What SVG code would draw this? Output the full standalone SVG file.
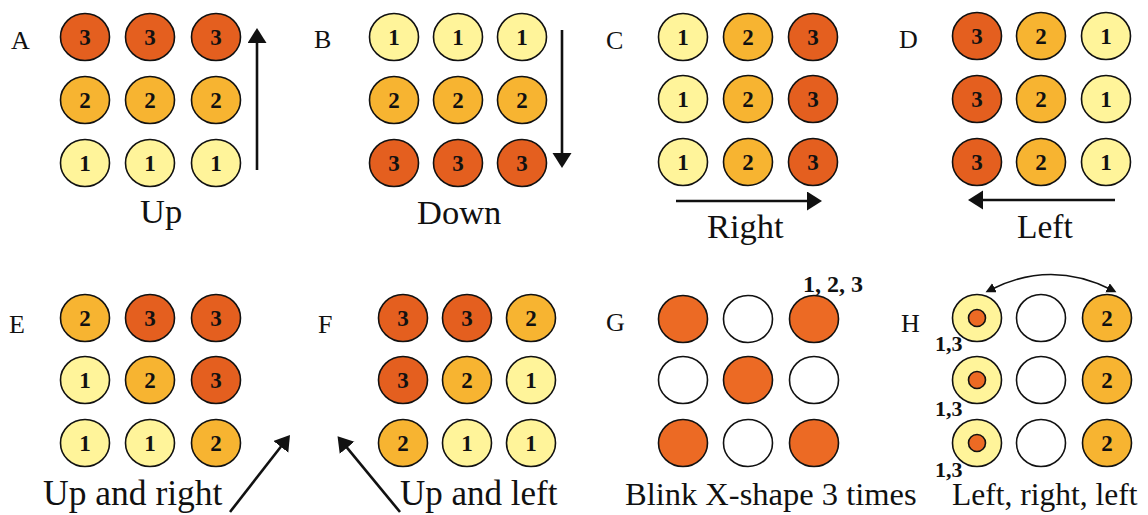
<svg xmlns="http://www.w3.org/2000/svg" width="1148" height="515" viewBox="0 0 1148 515">
<style>
.c1{fill:#fff49a;stroke:#111;stroke-width:1.6}
.c2{fill:#f7b431;stroke:#111;stroke-width:1.6}
.c3{fill:#e45f1f;stroke:#111;stroke-width:1.6}
.c0{fill:#fff;stroke:#111;stroke-width:1.6}
.cr{fill:#ec6a24;stroke:#111;stroke-width:1.6}
text{font-family:'Liberation Serif','Times New Roman','DejaVu Serif',serif;fill:#111}
.d{font-weight:bold;font-size:23px;text-anchor:middle}
.lt{font-size:26px}
.lb{font-size:34.5px}
.sm{font-weight:bold;font-size:22px}
.ar{stroke:#111;stroke-width:2.6;fill:none}
.ar2{stroke:#111;stroke-width:1.6;fill:none}
</style>
<defs>
<marker id="ah" markerUnits="userSpaceOnUse" markerWidth="20" markerHeight="20" refX="8" refY="9.5" orient="auto">
<path d="M0,0 L15,9.5 L0,19 z" fill="#111"/>
</marker>
<marker id="ahs" markerUnits="userSpaceOnUse" markerWidth="12" markerHeight="12" refX="5" refY="5" orient="auto-start-reverse">
<path d="M0,0 L10,5 L0,10 z" fill="#111"/>
</marker>
</defs>

<g id="panelA">
<text class="lt" x="11" y="49">A</text>
<g id="A11"><ellipse class="c3" cx="85" cy="37" rx="24.5" ry="23.5"/><text class="d" x="85" y="45">3</text></g>
<g id="A12"><ellipse class="c3" cx="150" cy="37" rx="24.5" ry="23.5"/><text class="d" x="150" y="45">3</text></g>
<g id="A13"><ellipse class="c3" cx="216" cy="37" rx="24.5" ry="23.5"/><text class="d" x="216" y="45">3</text></g>
<g id="A21"><ellipse class="c2" cx="85" cy="100" rx="24.5" ry="23.5"/><text class="d" x="85" y="108">2</text></g>
<g id="A22"><ellipse class="c2" cx="150" cy="100" rx="24.5" ry="23.5"/><text class="d" x="150" y="108">2</text></g>
<g id="A23"><ellipse class="c2" cx="216" cy="100" rx="24.5" ry="23.5"/><text class="d" x="216" y="108">2</text></g>
<g id="A31"><ellipse class="c1" cx="85" cy="163" rx="24.5" ry="23.5"/><text class="d" x="85" y="171">1</text></g>
<g id="A32"><ellipse class="c1" cx="150" cy="163" rx="24.5" ry="23.5"/><text class="d" x="150" y="171">1</text></g>
<g id="A33"><ellipse class="c1" cx="216" cy="163" rx="24.5" ry="23.5"/><text class="d" x="216" y="171">1</text></g>
<text class="lb" x="140" y="223">Up</text>
</g>

<g id="panelB">
<text class="lt" x="314" y="48">B</text>
<g id="B11"><ellipse class="c1" cx="394" cy="37" rx="24.5" ry="23.5"/><text class="d" x="394" y="45">1</text></g>
<g id="B12"><ellipse class="c1" cx="458" cy="37" rx="24.5" ry="23.5"/><text class="d" x="458" y="45">1</text></g>
<g id="B13"><ellipse class="c1" cx="522" cy="37" rx="24.5" ry="23.5"/><text class="d" x="522" y="45">1</text></g>
<g id="B21"><ellipse class="c2" cx="394" cy="100" rx="24.5" ry="23.5"/><text class="d" x="394" y="108">2</text></g>
<g id="B22"><ellipse class="c2" cx="458" cy="100" rx="24.5" ry="23.5"/><text class="d" x="458" y="108">2</text></g>
<g id="B23"><ellipse class="c2" cx="522" cy="100" rx="24.5" ry="23.5"/><text class="d" x="522" y="108">2</text></g>
<g id="B31"><ellipse class="c3" cx="394" cy="163" rx="24.5" ry="23.5"/><text class="d" x="394" y="171">3</text></g>
<g id="B32"><ellipse class="c3" cx="458" cy="163" rx="24.5" ry="23.5"/><text class="d" x="458" y="171">3</text></g>
<g id="B33"><ellipse class="c3" cx="522" cy="163" rx="24.5" ry="23.5"/><text class="d" x="522" y="171">3</text></g>
<text class="lb" x="417" y="224">Down</text>
</g>

<g id="panelC">
<text class="lt" x="606" y="49">C</text>
<g id="C11"><ellipse class="c1" cx="683" cy="37" rx="24.5" ry="23.5"/><text class="d" x="683" y="45">1</text></g>
<g id="C12"><ellipse class="c2" cx="748" cy="37" rx="24.5" ry="23.5"/><text class="d" x="748" y="45">2</text></g>
<g id="C13"><ellipse class="c3" cx="813" cy="37" rx="24.5" ry="23.5"/><text class="d" x="813" y="45">3</text></g>
<g id="C21"><ellipse class="c1" cx="683" cy="99" rx="24.5" ry="23.5"/><text class="d" x="683" y="107">1</text></g>
<g id="C22"><ellipse class="c2" cx="748" cy="99" rx="24.5" ry="23.5"/><text class="d" x="748" y="107">2</text></g>
<g id="C23"><ellipse class="c3" cx="813" cy="99" rx="24.5" ry="23.5"/><text class="d" x="813" y="107">3</text></g>
<g id="C31"><ellipse class="c1" cx="683" cy="162" rx="24.5" ry="23.5"/><text class="d" x="683" y="170">1</text></g>
<g id="C32"><ellipse class="c2" cx="748" cy="162" rx="24.5" ry="23.5"/><text class="d" x="748" y="170">2</text></g>
<g id="C33"><ellipse class="c3" cx="813" cy="162" rx="24.5" ry="23.5"/><text class="d" x="813" y="170">3</text></g>
<text class="lb" x="707" y="238">Right</text>
</g>

<g id="panelD">
<text class="lt" x="899" y="48">D</text>
<g id="D11"><ellipse class="c3" cx="977" cy="36" rx="24.5" ry="23.5"/><text class="d" x="977" y="44">3</text></g>
<g id="D12"><ellipse class="c2" cx="1041" cy="36" rx="24.5" ry="23.5"/><text class="d" x="1041" y="44">2</text></g>
<g id="D13"><ellipse class="c1" cx="1106" cy="36" rx="24.5" ry="23.5"/><text class="d" x="1106" y="44">1</text></g>
<g id="D21"><ellipse class="c3" cx="977" cy="99" rx="24.5" ry="23.5"/><text class="d" x="977" y="107">3</text></g>
<g id="D22"><ellipse class="c2" cx="1041" cy="99" rx="24.5" ry="23.5"/><text class="d" x="1041" y="107">2</text></g>
<g id="D23"><ellipse class="c1" cx="1106" cy="99" rx="24.5" ry="23.5"/><text class="d" x="1106" y="107">1</text></g>
<g id="D31"><ellipse class="c3" cx="977" cy="162" rx="24.5" ry="23.5"/><text class="d" x="977" y="170">3</text></g>
<g id="D32"><ellipse class="c2" cx="1041" cy="162" rx="24.5" ry="23.5"/><text class="d" x="1041" y="170">2</text></g>
<g id="D33"><ellipse class="c1" cx="1106" cy="162" rx="24.5" ry="23.5"/><text class="d" x="1106" y="170">1</text></g>
<text class="lb" x="1017" y="238" style="font-size:33.5px">Left</text>
</g>

<g id="panelE">
<text class="lt" x="9" y="333">E</text>
<g id="E11"><ellipse class="c2" cx="85" cy="318" rx="24.5" ry="23.5"/><text class="d" x="85" y="326">2</text></g>
<g id="E12"><ellipse class="c3" cx="150" cy="318" rx="24.5" ry="23.5"/><text class="d" x="150" y="326">3</text></g>
<g id="E13"><ellipse class="c3" cx="216" cy="318" rx="24.5" ry="23.5"/><text class="d" x="216" y="326">3</text></g>
<g id="E21"><ellipse class="c1" cx="85" cy="380" rx="24.5" ry="23.5"/><text class="d" x="85" y="388">1</text></g>
<g id="E22"><ellipse class="c2" cx="150" cy="380" rx="24.5" ry="23.5"/><text class="d" x="150" y="388">2</text></g>
<g id="E23"><ellipse class="c3" cx="216" cy="380" rx="24.5" ry="23.5"/><text class="d" x="216" y="388">3</text></g>
<g id="E31"><ellipse class="c1" cx="85" cy="443" rx="24.5" ry="23.5"/><text class="d" x="85" y="451">1</text></g>
<g id="E32"><ellipse class="c1" cx="150" cy="443" rx="24.5" ry="23.5"/><text class="d" x="150" y="451">1</text></g>
<g id="E33"><ellipse class="c2" cx="216" cy="443" rx="24.5" ry="23.5"/><text class="d" x="216" y="451">2</text></g>
<text class="lb" x="43" y="505" style="font-size:35.5px">Up and right</text>
</g>

<g id="panelF">
<text class="lt" x="318" y="333">F</text>
<g id="F11"><ellipse class="c3" cx="403" cy="318" rx="24.5" ry="23.5"/><text class="d" x="403" y="326">3</text></g>
<g id="F12"><ellipse class="c3" cx="467" cy="318" rx="24.5" ry="23.5"/><text class="d" x="467" y="326">3</text></g>
<g id="F13"><ellipse class="c2" cx="531" cy="318" rx="24.5" ry="23.5"/><text class="d" x="531" y="326">2</text></g>
<g id="F21"><ellipse class="c3" cx="403" cy="380" rx="24.5" ry="23.5"/><text class="d" x="403" y="388">3</text></g>
<g id="F22"><ellipse class="c2" cx="467" cy="380" rx="24.5" ry="23.5"/><text class="d" x="467" y="388">2</text></g>
<g id="F23"><ellipse class="c1" cx="531" cy="380" rx="24.5" ry="23.5"/><text class="d" x="531" y="388">1</text></g>
<g id="F31"><ellipse class="c2" cx="403" cy="443" rx="24.5" ry="23.5"/><text class="d" x="403" y="451">2</text></g>
<g id="F32"><ellipse class="c1" cx="467" cy="443" rx="24.5" ry="23.5"/><text class="d" x="467" y="451">1</text></g>
<g id="F33"><ellipse class="c1" cx="531" cy="443" rx="24.5" ry="23.5"/><text class="d" x="531" y="451">1</text></g>
<text class="lb" x="400" y="505" style="font-size:35px">Up and left</text>
</g>

<g id="panelG">
<text class="lt" x="606" y="331">G</text>
<text class="sm" x="803" y="292" style="font-size:24px">1, 2, 3</text>
<g id="G11"><ellipse class="cr" cx="683" cy="319" rx="24.5" ry="23.5"/></g>
<g id="G12"><ellipse class="c0" cx="748" cy="319" rx="24.5" ry="23.5"/></g>
<g id="G13"><ellipse class="cr" cx="814" cy="319" rx="24.5" ry="23.5"/></g>
<g id="G21"><ellipse class="c0" cx="683" cy="380" rx="24.5" ry="23.5"/></g>
<g id="G22"><ellipse class="cr" cx="748" cy="380" rx="24.5" ry="23.5"/></g>
<g id="G23"><ellipse class="c0" cx="814" cy="380" rx="24.5" ry="23.5"/></g>
<g id="G31"><ellipse class="cr" cx="683" cy="443" rx="24.5" ry="23.5"/></g>
<g id="G32"><ellipse class="c0" cx="748" cy="443" rx="24.5" ry="23.5"/></g>
<g id="G33"><ellipse class="cr" cx="814" cy="443" rx="24.5" ry="23.5"/></g>
<text class="lb" x="625" y="505" style="font-size:32.5px">Blink X-shape 3 times</text>
</g>

<g id="panelH">
<text class="lt" x="901" y="332">H</text>
<g id="H11"><ellipse class="c1" cx="977" cy="318" rx="24.5" ry="23.5"/><circle class="cr" cx="977" cy="318" r="8.5"/></g>
<g id="H12"><ellipse class="c0" cx="1041" cy="318" rx="24.5" ry="23.5"/></g>
<g id="H13"><ellipse class="c2" cx="1107" cy="318" rx="24.5" ry="23.5"/><text class="d" x="1107" y="326">2</text></g>
<g id="H21"><ellipse class="c1" cx="977" cy="380" rx="24.5" ry="23.5"/><circle class="cr" cx="977" cy="380" r="8.5"/></g>
<g id="H22"><ellipse class="c0" cx="1041" cy="380" rx="24.5" ry="23.5"/></g>
<g id="H23"><ellipse class="c2" cx="1107" cy="380" rx="24.5" ry="23.5"/><text class="d" x="1107" y="388">2</text></g>
<g id="H31"><ellipse class="c1" cx="977" cy="443" rx="24.5" ry="23.5"/><circle class="cr" cx="977" cy="443" r="8.5"/></g>
<g id="H32"><ellipse class="c0" cx="1041" cy="443" rx="24.5" ry="23.5"/></g>
<g id="H33"><ellipse class="c2" cx="1107" cy="443" rx="24.5" ry="23.5"/><text class="d" x="1107" y="451">2</text></g>
<text class="sm" x="935" y="351">1,3</text>
<text class="sm" x="935" y="416">1,3</text>
<text class="sm" x="935" y="477">1,3</text>
<text class="lb" x="952" y="505" style="font-size:31.5px">Left, right, left</text>
</g>

<g id="connectors">
<line class="ar" x1="257" y1="170" x2="257" y2="35" marker-end="url(#ah)"/>
<line class="ar" x1="562" y1="30" x2="562" y2="161" marker-end="url(#ah)"/>
<line class="ar" x1="676" y1="201" x2="815" y2="201" marker-end="url(#ah)"/>
<line class="ar" x1="1115" y1="200" x2="975" y2="200" marker-end="url(#ah)"/>
<line class="ar" x1="230" y1="512" x2="285.7" y2="440.5" marker-end="url(#ah)"/>
<line class="ar" x1="400" y1="512" x2="342" y2="441.6" marker-end="url(#ah)"/>
<path class="ar2" d="M990,290 Q1051,259 1112,290" marker-start="url(#ahs)" marker-end="url(#ahs)"/>
</g>
</svg>
